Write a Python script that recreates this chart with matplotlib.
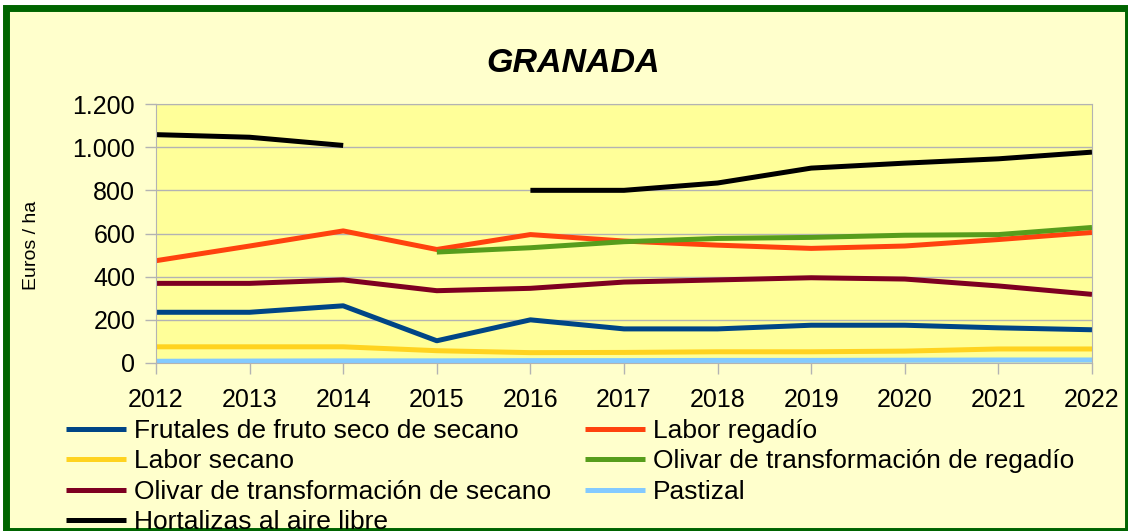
import numpy as np
import matplotlib
matplotlib.use("Agg")
import matplotlib.pyplot as plt
from matplotlib.patches import Rectangle
from matplotlib.ticker import FuncFormatter

plt.rcParams['font.family'] = ['Liberation Sans', 'DejaVu Sans']

years = [2012, 2013, 2014, 2015, 2016, 2017, 2018, 2019, 2020, 2021, 2022]
nan = np.nan

frutales = [235, 235, 265, 103, 200, 158, 158, 175, 175, 163, 154]
labor_regadio = [474, 542, 612, 526, 595, 565, 546, 531, 542, 572, 605]
labor_secano = [75, 75, 75, 57, 48, 49, 52, 52, 55, 65, 65]
olivar_regadio = [nan, nan, nan, 514, 534, 562, 577, 582, 592, 595, 628]
olivar_secano = [369, 369, 385, 335, 346, 375, 385, 395, 389, 357, 318]
pastizal = [8, 9, 10, 10, 11, 11, 12, 12, 13, 14, 14]
hortalizas = [1058, 1046, 1008, nan, 800, 800, 834, 903, 926, 946, 977]

series = [
    ("Frutales de fruto seco de secano", frutales, "#004586"),
    ("Labor regadío", labor_regadio, "#FF420E"),
    ("Labor secano", labor_secano, "#FFD320"),
    ("Olivar de transformación de regadío", olivar_regadio, "#579D1C"),
    ("Olivar de transformación de secano", olivar_secano, "#7E0021"),
    ("Pastizal", pastizal, "#83CAFF"),
    ("Hortalizas al aire libre", hortalizas, "#000000"),
]

fig = plt.figure(figsize=(11.28, 5.31), dpi=100, facecolor="white")
# background + green frame
fig.patches.append(Rectangle((6 / 1128, 0), 1 - 6 / 1128, 1 - 8 / 531, transform=fig.transFigure,
                             facecolor="#FFFFCC", edgecolor="#006400", linewidth=5, zorder=-10))

ax = fig.add_axes([156 / 1128, 1 - 363 / 531, (1092 - 156) / 1128, (363 - 104) / 531])
ax.set_facecolor("#FFFF99")

lines = {}
for name, vals, col in series:
    ln, = ax.plot(years, vals, color=col, lw=3.6, label=name, solid_capstyle="butt")
    lines[name] = ln

ax.set_xlim(2012, 2022)
ax.set_ylim(0, 1200)
ax.set_xticks(years)
ax.set_yticks(range(0, 1201, 200))
ax.yaxis.set_major_formatter(FuncFormatter(lambda v, p: f"{int(v):,}".replace(",", ".")))
ax.grid(axis="y", color="#B3B3B3", lw=1)
ax.set_axisbelow(True)
for s in ax.spines.values():
    s.set_color("#B3B3B3")
ax.tick_params(colors="#B3B3B3", labelcolor="black", labelsize=18, length=8, width=1)
ax.tick_params(axis="y", pad=7)
ax.tick_params(axis="x", pad=10)

fig.text(573 / 1128, 1 - 64 / 531, "GRANADA", ha="center", va="center",
         fontsize=24.5, fontweight="bold", fontstyle="italic")
fig.text(32 / 1128, 1 - 245 / 531, "Euros / ha", rotation=90, ha="center", va="center", fontsize=14)

order = ["Frutales de fruto seco de secano", "Labor secano", "Olivar de transformación de secano",
         "Hortalizas al aire libre", "Labor regadío", "Olivar de transformación de regadío", "Pastizal"]
fig.legend([lines[n] for n in order], order, ncol=2, frameon=False, fontsize=19,
           loc="upper left", bbox_to_anchor=(66 / 1128, 1 - 419 / 531),
           handlelength=2.27, handletextpad=0.3, columnspacing=1.3, labelspacing=0.245,
           borderaxespad=0, borderpad=0)

fig.savefig("out.png", dpi=100, facecolor="white")
